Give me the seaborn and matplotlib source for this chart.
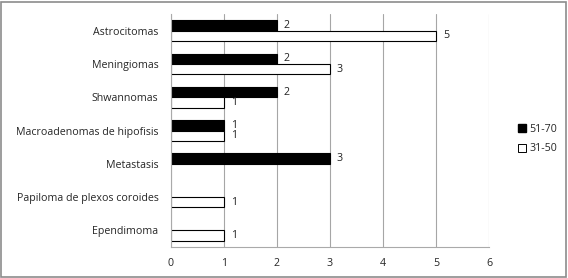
import matplotlib
matplotlib.use("Agg")
import matplotlib.pyplot as plt
import seaborn as sns
import pandas as pd
import numpy as np
from matplotlib.patches import Rectangle
from matplotlib.lines import Line2D

categories = ["Astrocitomas", "Meningiomas", "Shwannomas", "Macroadenomas de hipofisis",
              "Metastasis", "Papiloma de plexos coroides", "Ependimoma"]
series_names = ["51-70", "31-50"]
values_51_70 = [2, 2, 2, 1, 3, 0, 0]
values_31_50 = [5, 3, 1, 1, 0, 1, 1]
x_ticks = [0, 1, 2, 3, 4, 5, 6]

df = pd.DataFrame({
    "cat": categories * 2,
    "serie": [series_names[0]] * len(categories) + [series_names[1]] * len(categories),
    "val": values_51_70 + values_31_50,
})

sns.set_style("white")
plt.rcParams["font.family"] = ["Open Sans", "DejaVu Sans"]
fs = 7.7

fig = plt.figure(figsize=(5.68, 2.78), dpi=100)
ax = fig.add_axes([171 / 568, 1 - 247 / 278, (489 - 171) / 568, (247 - 14) / 278])

sns.barplot(data=df, y="cat", x="val", hue="serie", order=categories,
            hue_order=series_names, palette={"51-70": "black", "31-50": "white"},
            orient="h", width=0.62, edgecolor="black", linewidth=0.8, ax=ax,
            legend=False, errorbar=None, saturation=1)

for cont in ax.containers:
    for p in cont.patches:
        w = p.get_width()
        if w == 0 or np.isnan(w):
            p.set_visible(False)
            continue
        ax.text(w + 0.13, p.get_y() + p.get_height() / 2, f"{int(w)}",
                va="center", ha="left", fontsize=fs, color="#222222")

ax.set_xlim(0, 6)
ax.set_ylim(len(categories) - 0.5, -0.5)
ax.set_xticks(x_ticks)
ax.set_xticklabels([str(t) for t in x_ticks], fontsize=fs)
ax.set_yticks(range(len(categories)))
ax.set_yticklabels(categories, fontsize=fs)
ax.set_yticks(np.arange(-0.5, len(categories), 1), minor=True)
ax.tick_params(axis="y", which="major", length=0, pad=9)
ax.tick_params(axis="y", which="minor", length=4, color="#aaaaaa", width=0.8)
ax.tick_params(axis="x", which="major", length=4, color="#aaaaaa", width=0.8, pad=4)
ax.set_xlabel("")
ax.set_ylabel("")
ax.grid(axis="x", color="#a6a6a6", linewidth=0.8)
ax.set_axisbelow(True)
for s in ["top", "right"]:
    ax.spines[s].set_visible(False)
for s in ["left", "bottom"]:
    ax.spines[s].set_color("#aaaaaa")
    ax.spines[s].set_linewidth(0.8)

handles = [
    Line2D([], [], marker="s", linestyle="", markerfacecolor="black", markeredgecolor="black",
           markersize=6, label="51-70"),
    Line2D([], [], marker="s", linestyle="", markerfacecolor="white", markeredgecolor="black",
           markeredgewidth=0.7, markersize=6, label="31-50"),
]
fig.legend(handles=handles, loc="center left", bbox_to_anchor=(508 / 568, 1 - 139 / 278),
           frameon=False, fontsize=fs, handlelength=0.8, handletextpad=0.3, labelspacing=0.8)

fig.patches.append(Rectangle((0.002, 0.004), 0.994, 0.99, transform=fig.transFigure,
                             fill=False, edgecolor="#8c8c8c", linewidth=1.2))

fig.savefig("out.png", dpi=100)
